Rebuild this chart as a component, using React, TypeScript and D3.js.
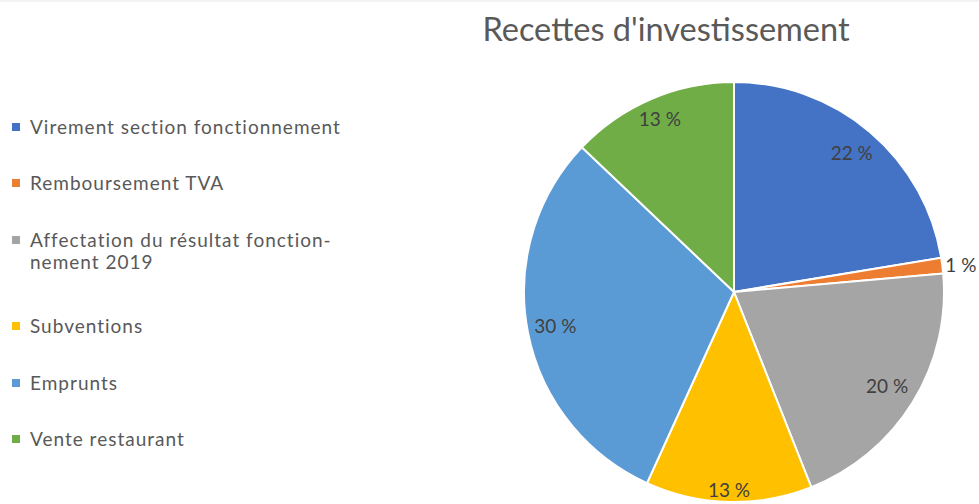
import { arc, pie, PieArcDatum } from 'd3'

const categories = [
  'Virement section fonctionnement',
  'Remboursement TVA',
  'Affectation du résultat fonctionnement 2019',
  'Subventions',
  'Emprunts',
  'Vente restaurant',
]
const legendLines = [
  ['Virement section fonctionnement'],
  ['Remboursement TVA'],
  ['Affectation du résultat fonction-', 'nement 2019'],
  ['Subventions'],
  ['Emprunts'],
  ['Vente restaurant'],
]
const shares = [22.4, 1.2, 20.4, 12.8, 30.3, 12.9]
const colors = ['#4472C4', '#ED7D31', '#A5A5A5', '#FFC000', '#5B9BD5', '#70AD47']

type Slice = { name: string; value: number; color: string }
const slices: Slice[] = categories.map((name, i) => ({ name, value: shares[i], color: colors[i] }))

const W = 979
const H = 504
const cx = 734
const cy = 292
const radius = 210
// label distance from centre, as Excel "best fit" puts them (0 = outside)
const labelRadius = [182, 0, 180, 198, 182, 188]
const font = 'Lato, "Open Sans", sans-serif'

export default function App() {
  const total = shares.reduce((a, b) => a + b, 0)
  const arcs = pie<Slice>()
    .value((d) => d.value)
    .sort(null)(slices)
  const arcGen = arc<PieArcDatum<Slice>>().innerRadius(0).outerRadius(radius)

  // legend rows
  const legendY = [127, 183, 240, 326, 383, 439]

  return (
    <svg width={W} height={H} style={{ position: 'absolute', left: 0, top: 0, background: '#fff' }}>
      <line x1={0} x2={W} y1={1} y2={1} stroke="#e6e6e6" />
      <text x={666} y={41} textAnchor="middle" fontFamily={font} fontSize={32.5} fill="#595959">
        Recettes d'investissement
      </text>

      <g transform={`translate(${cx},${cy})`}>
        {arcs.map((a) => (
          <path key={a.data.name} d={arcGen(a) ?? ''} fill={a.data.color} stroke="#fff" strokeWidth={2} />
        ))}
        {arcs.map((a, i) => {
          const mid = (a.startAngle + a.endAngle) / 2
          const pct = `${Math.round((a.data.value / total) * 100)} %`
          const outside = labelRadius[i] === 0
          const r = outside ? radius + 3 : labelRadius[i]
          return (
            <text
              key={a.data.name}
              x={Math.sin(mid) * r}
              y={-Math.cos(mid) * r}
              dy="0.35em"
              textAnchor={outside ? 'start' : 'middle'}
              fontFamily={font}
              fontSize={19}
              fill="#404040"
            >
              {pct}
            </text>
          )
        })}
      </g>

      <g>
        {legendLines.map((lines, i) => (
          <g key={categories[i]} transform={`translate(0,${legendY[i]})`}>
            <rect x={12} y={-4} width={8} height={8} fill={colors[i]} />
            {lines.map((l, j) => (
              <text
                key={l}
                x={30}
                y={j * 22.5}
                dy="0.35em"
                fontFamily={font}
                fontSize={19}
                letterSpacing={1}
                fill="#595959"
              >
                {l}
              </text>
            ))}
          </g>
        ))}
      </g>
    </svg>
  )
}
